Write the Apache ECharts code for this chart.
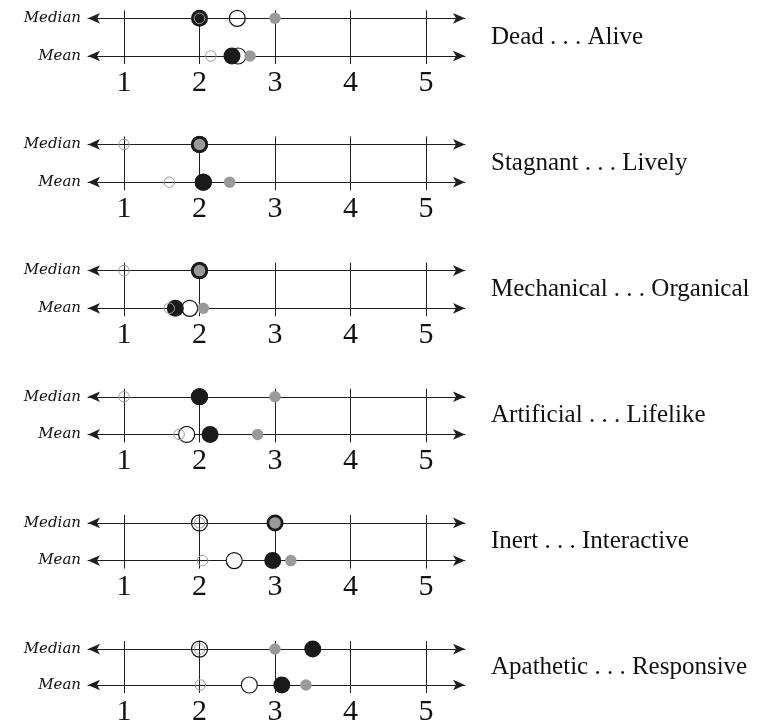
<!DOCTYPE html>
<html><head><meta charset="utf-8">
<script src="https://cdn.jsdelivr.net/npm/echarts@6/dist/echarts.min.js"></script>
<style>html,body{margin:0;padding:0;background:#fff}#c{width:765px;height:727px}</style>
</head><body><div id="c"></div>
<script>
// ---- data ----
const scales = ['Dead . . . Alive', 'Stagnant . . . Lively', 'Mechanical . . . Organical',
                'Artificial . . . Lifelike', 'Inert . . . Interactive', 'Apathetic . . . Responsive'];
const rows = ['Mean', 'Median'];
const tickValues = [1, 2, 3, 4, 5];
// group A (large black filled)
const medianA = [2, 2, 2, 2, 3, 3.5];
const meanA   = [2.43, 2.05, 1.68, 2.14, 2.97, 3.09];
// group B (large open circle)
const medianB = [2.5, 2, 2, 2, 2, 2];
const meanB   = [2.51, 2.05, 1.87, 1.83, 2.46, 2.66];
// group C (small grey filled)
const medianC = [3, 2, 2, 3, 3, 3];
const meanC   = [2.67, 2.40, 2.05, 2.77, 3.21, 3.41];
// group D (small grey open)
const medianD = [2, 1, 1, 1, 2, 2];
const meanD   = [2.15, 1.60, 1.60, 1.73, 2.04, 2.01];

// ---- layout ----
const top0 = 18.3, step = 126.15, rowGap = 37.7;
const gLeft = 88, gWidth = 377;
const xMin = 0.5232, xMax = 5.5166;
const lineCol = '#1e1e1e';

const groups = [
  {med: medianB, mean: meanB, z: 1, size: 16, style: {color: '#fff', borderColor: '#111', borderWidth: 1.2}},
  {med: medianA, mean: meanA, z: 3, size: 17, style: {color: '#1a1a1a'}},
  {med: medianC, mean: meanC, z: 4, size: 11.5, style: {color: '#9a9a9a'}},
  {med: medianD, mean: meanD, z: 5, size: 10.5, style: {color: 'rgba(0,0,0,0)', borderColor: '#999', borderWidth: 1}}
];

const grid = [], xAxis = [], yAxis = [], series = [], graphic = [];
scales.forEach((name, k) => {
  const top = top0 + k * step;
  grid.push({left: gLeft, width: gWidth, top: top, height: rowGap});
  // bottom axis (Mean row)
  xAxis.push({
    type: 'value', gridIndex: k, position: 'bottom', min: xMin, max: xMax, z: 0,
    axisLine: {show: true, onZero: false, symbol: ['arrow', 'arrow'], symbolSize: [8, 12],
               lineStyle: {color: lineCol, width: 1}},
    axisTick: {show: true, length: 8, customValues: tickValues, lineStyle: {color: lineCol, width: 1}},
    axisLabel: {show: true, customValues: tickValues, margin: 12, color: '#111',
                fontFamily: 'Liberation Serif', fontSize: 30},
    splitLine: {show: false}
  });
  // top axis (Median row) with grid lines
  xAxis.push({
    type: 'value', gridIndex: k, position: 'top', min: xMin, max: xMax, z: 2,
    axisLine: {show: true, onZero: false, symbol: ['arrow', 'arrow'], symbolSize: [8, 12],
               lineStyle: {color: lineCol, width: 1}},
    axisTick: {show: true, length: 8, customValues: tickValues, lineStyle: {color: lineCol, width: 1}},
    axisLabel: {show: false},
    splitLine: {show: true, lineStyle: {color: lineCol, width: 1}}
  });
  yAxis.push({
    type: 'category', gridIndex: k, data: rows, boundaryGap: false,
    axisLine: {show: false}, axisTick: {show: false}, splitLine: {show: false},
    axisLabel: {margin: 7, color: '#111', fontFamily: 'DejaVu Serif', fontStyle: 'italic', fontSize: 15}
  });
  groups.forEach(g => {
    series.push({
      type: 'scatter', xAxisIndex: 2 * k, yAxisIndex: k, z: g.z,
      symbol: 'circle', symbolSize: g.size, itemStyle: Object.assign({opacity: 1}, g.style),
      silent: true, emphasis: {disabled: true}, animation: false,
      data: [[g.med[k], 'Median'], [g.mean[k], 'Mean']]
    });
  });
  graphic.push({
    type: 'text', x: 491, y: top + rowGap / 2,
    style: {text: name, font: '25px "Liberation Serif"', fill: '#111', verticalAlign: 'middle', align: 'left'}
  });
});

const chart = echarts.init(document.getElementById('c'), null, {renderer: 'canvas'});
chart.setOption({animation: false, grid, xAxis, yAxis, series, graphic});
</script>
</body></html>
